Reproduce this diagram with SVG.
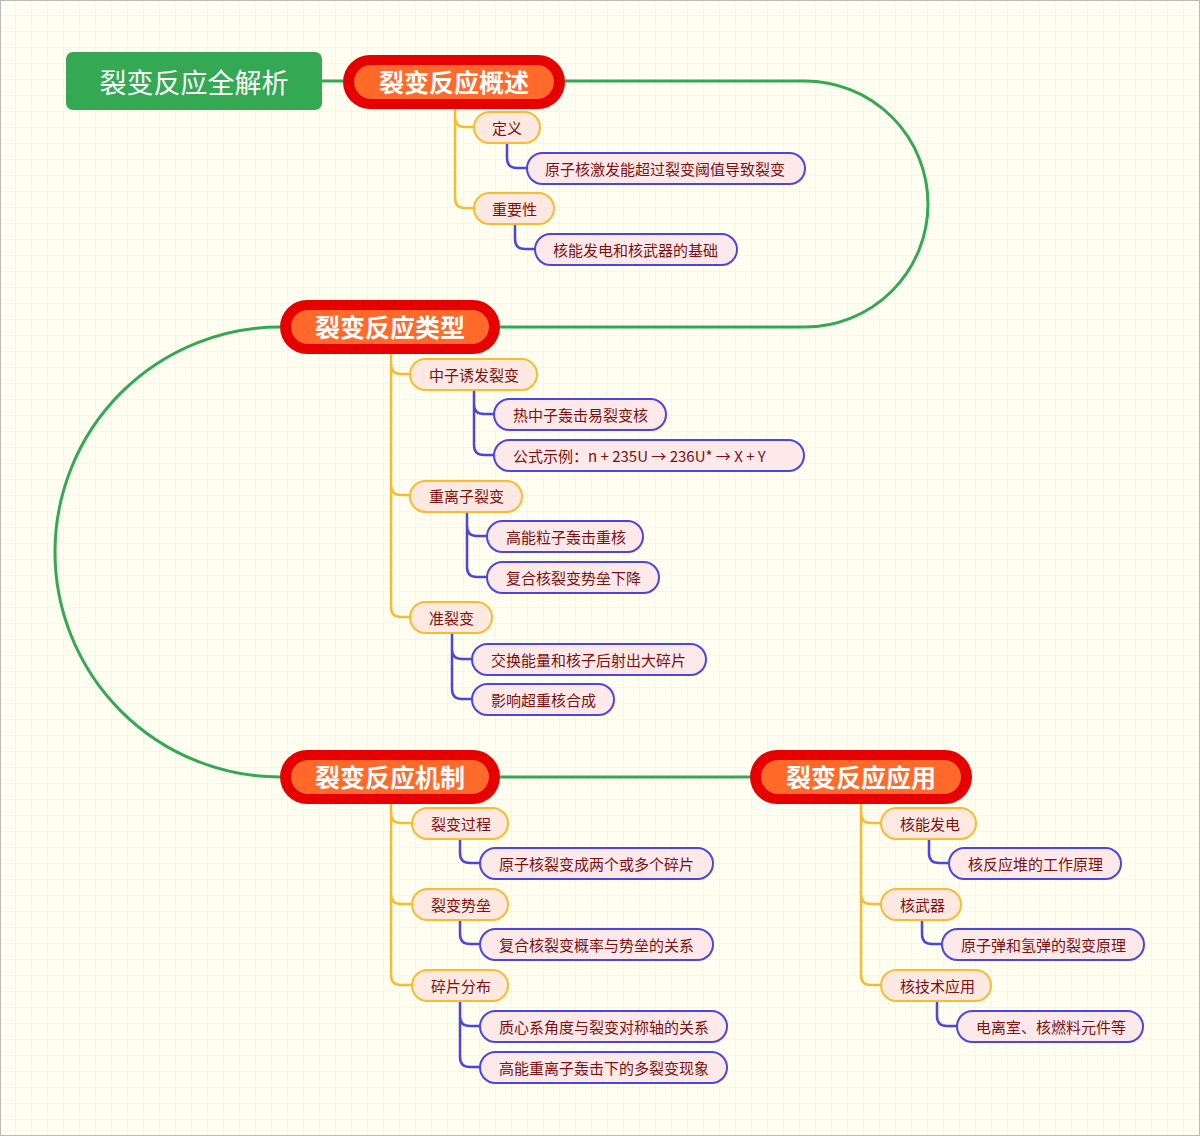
<svg xmlns="http://www.w3.org/2000/svg" width="1200" height="1136" viewBox="0 0 1200 1136">
<defs>
<pattern id="grid" width="16" height="16" patternUnits="userSpaceOnUse">
<path d="M16 0V16M0 16H16" fill="none" stroke="#f6f0c8" stroke-width="1"/>
</pattern>
<style>
.t{font-family:"Noto Sans CJK SC","Liberation Sans",sans-serif;}
.main rect.o{fill:#e60000}
.main rect.i{fill:#ff6a2a}
.main text{fill:#fff;font-size:25px;font-weight:bold;text-anchor:middle;dominant-baseline:central}
.sub rect{fill:#fde8e2;stroke:#f7bd2f;stroke-width:2}
.leaf rect{fill:#fde8ea;stroke:#4c45e0;stroke-width:2}
.sub text,.leaf text{fill:#7a1010;font-size:15px;dominant-baseline:central}
.g{fill:none;stroke:#34a853;stroke-width:3}
.y{fill:none;stroke:#f7bd2f;stroke-width:2.5}
.b{fill:none;stroke:#4c45e0;stroke-width:2.5}
</style>
</defs>
<rect width="1200" height="1136" fill="#fffef0"/>
<rect width="1200" height="1136" fill="url(#grid)"/>
<rect x="0.5" y="0.5" width="1199" height="1135" fill="none" stroke="#bbb"/>
<g id="connectors">
<path class="g" d="M322,81H343M565,81H805A123,123 0 0 1 805,327H500M280,327A225,225 0 0 0 280,777M500,777H750"/>
<path class="y" d="M455,109V117Q455,127 465,127H474M455,109V198Q455,208 465,208H474"/>
<path class="b" d="M507,143V158Q507,168 517,168H527M515,224V239Q515,249 525,249H535"/>
<path class="y" d="M391,354V364Q391,374 401,374H410M391,354V485Q391,495 401,495H410M391,354V607Q391,617 401,617H410"/>
<path class="b" d="M474,390V404Q474,414 484,414H494M474,390V445Q474,455 484,455H494"/>
<path class="b" d="M467,512V526Q467,536 477,536H487M467,512V567Q467,577 477,577H487"/>
<path class="b" d="M452,633V649Q452,659 462,659H472M452,633V689Q452,699 462,699H472"/>
<path class="y" d="M391,804V813Q391,823 401,823H412M391,804V894Q391,904 401,904H412M391,804V975Q391,985 401,985H412"/>
<path class="b" d="M460,839V853Q460,863 470,863H480M460,920V934Q460,944 470,944H480M460,1001V1016Q460,1026 470,1026H480M460,1001V1057Q460,1067 470,1067H480"/>
<path class="y" d="M861,804V813Q861,823 871,823H881M861,804V894Q861,904 871,904H881M861,804V975Q861,985 871,985H881"/>
<path class="b" d="M929,839V853Q929,863 939,863H949M922,920V934Q922,944 932,944H942M937,1001V1016Q937,1026 947,1026H957"/>
</g>
<g id="root"><rect x="66" y="52" width="256" height="58" rx="7" fill="#34a853"/><text class="t" x="194" y="81" fill="#fff" font-size="27" text-anchor="middle" dominant-baseline="central">裂变反应全解析</text></g>
<g id="m1" class="main t"><rect class="o" x="343" y="55" width="222" height="54" rx="27"/><rect class="i" x="354" y="65" width="200" height="34" rx="17"/><text x="454" y="81">裂变反应概述</text></g>
<g id="m2" class="main t"><rect class="o" x="280" y="300" width="220" height="54" rx="27"/><rect class="i" x="291" y="310" width="198" height="34" rx="17"/><text x="390" y="326">裂变反应类型</text></g>
<g id="m3" class="main t"><rect class="o" x="280" y="750" width="220" height="54" rx="27"/><rect class="i" x="291" y="760" width="198" height="34" rx="17"/><text x="390" y="776">裂变反应机制</text></g>
<g id="m4" class="main t"><rect class="o" x="750" y="750" width="222" height="54" rx="27"/><rect class="i" x="761" y="760" width="200" height="34" rx="17"/><text x="861" y="776">裂变反应应用</text></g>
<g id="s1" class="sub t"><rect x="474" y="112" width="66" height="31" rx="15.5"/><text x="492" y="127">定义</text></g>
<g id="s2" class="sub t"><rect x="474" y="193" width="80" height="31" rx="15.5"/><text x="492" y="208">重要性</text></g>
<g id="l1" class="leaf t"><rect x="527" y="153" width="278" height="31" rx="15.5"/><text x="545" y="168">原子核激发能超过裂变阈值导致裂变</text></g>
<g id="l2" class="leaf t"><rect x="535" y="234" width="202" height="31" rx="15.5"/><text x="553" y="249">核能发电和核武器的基础</text></g>
<g id="s3" class="sub t"><rect x="410" y="359" width="127" height="31" rx="15.5"/><text x="429" y="374">中子诱发裂变</text></g>
<g id="l3" class="leaf t"><rect x="494" y="399" width="172" height="31" rx="15.5"/><text x="513" y="414">热中子轰击易裂变核</text></g>
<g id="l4" class="leaf t"><rect x="494" y="440" width="310" height="31" rx="15.5"/><text x="513" y="455">公式示例：n + 235U → 236U* → X + Y</text></g>
<g id="s4" class="sub t"><rect x="410" y="481" width="112" height="31" rx="15.5"/><text x="429" y="495">重离子裂变</text></g>
<g id="l5" class="leaf t"><rect x="487" y="521" width="156" height="31" rx="15.5"/><text x="506" y="536">高能粒子轰击重核</text></g>
<g id="l6" class="leaf t"><rect x="487" y="562" width="172" height="31" rx="15.5"/><text x="506" y="577">复合核裂变势垒下降</text></g>
<g id="s5" class="sub t"><rect x="410" y="602" width="82" height="31" rx="15.5"/><text x="429" y="617">准裂变</text></g>
<g id="l7" class="leaf t"><rect x="472" y="644" width="234" height="31" rx="15.5"/><text x="491" y="659">交换能量和核子后射出大碎片</text></g>
<g id="l8" class="leaf t"><rect x="472" y="684" width="142" height="31" rx="15.5"/><text x="491" y="699">影响超重核合成</text></g>
<g id="s6" class="sub t"><rect x="412" y="808" width="96" height="31" rx="15.5"/><text x="431" y="823">裂变过程</text></g>
<g id="l9" class="leaf t"><rect x="480" y="848" width="233" height="31" rx="15.5"/><text x="499" y="863">原子核裂变成两个或多个碎片</text></g>
<g id="s7" class="sub t"><rect x="412" y="889" width="96" height="31" rx="15.5"/><text x="431" y="904">裂变势垒</text></g>
<g id="l10" class="leaf t"><rect x="480" y="929" width="233" height="31" rx="15.5"/><text x="499" y="944">复合核裂变概率与势垒的关系</text></g>
<g id="s8" class="sub t"><rect x="412" y="970" width="96" height="31" rx="15.5"/><text x="431" y="985">碎片分布</text></g>
<g id="l11" class="leaf t"><rect x="480" y="1011" width="247" height="31" rx="15.5"/><text x="499" y="1026">质心系角度与裂变对称轴的关系</text></g>
<g id="l12" class="leaf t"><rect x="480" y="1052" width="247" height="31" rx="15.5"/><text x="499" y="1067">高能重离子轰击下的多裂变现象</text></g>
<g id="s9" class="sub t"><rect x="881" y="808" width="95" height="31" rx="15.5"/><text x="900" y="823">核能发电</text></g>
<g id="l13" class="leaf t"><rect x="949" y="848" width="172" height="31" rx="15.5"/><text x="968" y="863">核反应堆的工作原理</text></g>
<g id="s10" class="sub t"><rect x="881" y="889" width="80" height="31" rx="15.5"/><text x="900" y="904">核武器</text></g>
<g id="l14" class="leaf t"><rect x="942" y="929" width="202" height="31" rx="15.5"/><text x="961" y="944">原子弹和氢弹的裂变原理</text></g>
<g id="s11" class="sub t"><rect x="881" y="970" width="110" height="31" rx="15.5"/><text x="900" y="985">核技术应用</text></g>
<g id="l15" class="leaf t"><rect x="957" y="1011" width="186" height="31" rx="15.5"/><text x="976" y="1026">电离室、核燃料元件等</text></g>
</svg>
